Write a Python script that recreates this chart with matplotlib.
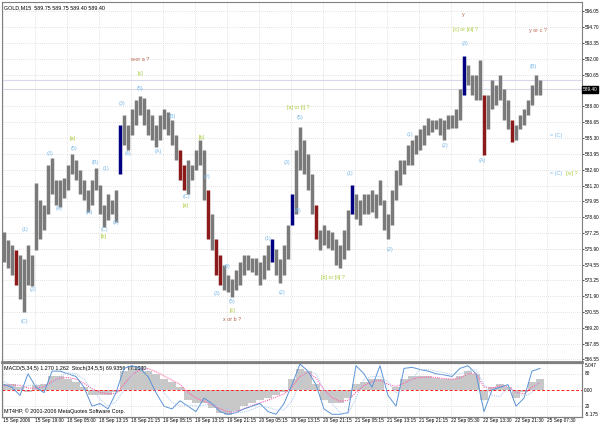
import numpy as np
import matplotlib.pyplot as plt
import matplotlib.transforms as mtransforms

plt.rcParams['font.family'] = ['Liberation Sans', 'DejaVu Sans']

# hourly high / low (GOLD)
highs = [577.3, 576.6, 576.2, 575.8, 575.4, 575.0, 576.2, 575.4, 581.5, 580.0,
         579.6, 583.0, 583.6, 581.7, 581.7, 581.9, 583.0, 583.9, 583.4, 582.6,
         581.7, 580.9, 581.7, 582.7, 581.3, 579.6, 580.5, 580.0, 580.9, 586.4,
         587.2, 586.4, 587.7, 588.5, 588.8, 588.7, 587.7, 587.2, 586.4, 587.2,
         587.7, 587.5, 586.8, 585.5, 584.3, 583.0, 583.4, 583.0, 584.3, 585.1,
         584.3, 580.9, 578.8, 576.7, 575.4, 574.5, 573.7, 573.3, 574.1, 574.8,
         575.4, 575.4, 575.1, 575.1, 574.8, 575.4, 576.2, 576.7, 575.9, 575.0,
         576.2, 577.9, 580.5, 584.3, 586.2, 585.1, 583.9, 582.2, 579.6, 577.5,
         577.9, 577.5, 577.3, 576.7, 576.2, 577.5, 579.2, 581.3, 580.5, 580.0,
         580.5, 580.5, 580.9, 580.5, 581.7, 580.0, 578.8, 580.9, 582.6, 583.4,
         583.4, 584.7, 585.1, 585.5, 586.0, 586.4, 587.0, 586.8, 586.8, 587.0,
         586.8, 587.2, 587.2, 587.7, 589.4, 592.2, 591.5, 590.6, 590.6, 591.9,
         588.9, 588.9, 590.2, 589.8, 590.6, 589.4, 588.5, 586.8, 586.4, 587.2,
         587.7, 588.5, 589.8, 590.6, 590.2]
lows = [574.8, 574.3, 573.7, 572.8, 571.6, 570.5, 572.8, 572.7, 575.8, 576.7,
        577.5, 578.8, 580.5, 579.6, 579.4, 580.2, 580.9, 582.2, 581.7, 580.5,
        580.0, 579.0, 579.6, 580.9, 578.8, 577.7, 578.3, 578.8, 578.2, 582.2,
        584.7, 584.3, 585.5, 586.4, 587.2, 586.4, 585.5, 585.1, 584.5, 585.1,
        586.0, 585.5, 584.7, 583.4, 581.7, 580.9, 580.5, 581.7, 582.6, 583.0,
        580.0, 576.7, 575.8, 573.7, 572.8, 572.4, 572.2, 571.8, 572.4, 572.8,
        573.7, 574.1, 573.9, 573.7, 572.8, 573.3, 574.1, 574.8, 573.7, 573.0,
        573.7, 575.0, 577.9, 578.8, 582.6, 582.2, 580.9, 578.8, 576.7, 575.8,
        576.2, 576.0, 575.8, 574.5, 574.3, 575.0, 575.8, 578.8, 578.4, 577.9,
        578.8, 578.8, 579.0, 578.5, 579.6, 577.5, 576.7, 577.9, 580.0, 581.3,
        582.2, 583.0, 583.0, 583.9, 584.3, 584.7, 585.5, 585.8, 586.0, 585.5,
        585.1, 586.0, 586.1, 586.1, 586.8, 588.9, 589.8, 588.9, 588.5, 588.5,
        583.8, 586.0, 587.7, 588.1, 588.5, 586.8, 586.0, 584.9, 585.1, 586.0,
        586.4, 587.2, 588.1, 588.9, 588.9]
red_bars = [3, 44, 45, 51, 53, 54, 78, 120, 127]
blue_bars = [29, 67, 72, 87, 115]

# indicators, one value every 2 hours
macd_hist = [1, 1, 0.5, -0.5, 0.8, 1, 2.5, 2.5, 2, 1.5,
             0.5, -1, -1, -1, -0.5, 3.5, 4.5, 4.5, 3.5, 3,
             2, 1.5, 0.5, -2, -2.5, -2.5, -3.5, -4.5, -4.8, -4,
             -3, -2.5, -2, -1.5, -1, -0.5, 2, 4, 3.5, 1,
             -2, -2.5, -2.5, -1.5, 1, 1.5, 2, 2, 0, 0.5,
             2, 2.5, 2.5, 2.5, 2.3, 2, 2, 2.5, 3.5, 3,
             -2, 0.5, 1, 0.5, -1.5, -0.5, 1.5, 2]
macd_signal = [0.8, 0.9, 0.8, 0.3, 0.3, 0.6, 1.5, 2.2, 2.3, 2.0,
               1.2, 0.2, -0.5, -0.8, -0.7, 1.0, 2.8, 3.8, 4.0, 3.4,
               2.6, 1.8, 1.0, -0.5, -1.6, -2.2, -2.8, -3.6, -4.2, -4.2,
               -3.6, -3.0, -2.5, -2.0, -1.4, -0.8, 0.5, 2.5, 3.3, 2.2,
               0.0, -1.5, -2.2, -2.0, -0.5, 0.8, 1.5, 1.8, 1.0, 0.6,
               1.2, 2.0, 2.3, 2.4, 2.3, 2.1, 2.0, 2.2, 3.0, 3.0,
               0.5, 0.3, 0.7, 0.6, -0.5, -0.8, 0.5, 1.3]
stoch_main = [60, 55, 40, 80, 55, 45, 85, 85, 80, 75,
              55, 20, 25, 15, 45, 90, 95, 90, 75, 45,
              20, 15, 30, 20, 10, 35, 25, 10, 5, 8,
              15, 20, 25, 10, 5, 25, 60, 98, 85, 60,
              15, 5, 5, 8, 95, 80, 55, 95, 40, 20,
              90, 92, 88, 85, 80, 78, 75, 90, 95, 80,
              10, 50, 55, 60, 20, 35, 85, 90]
stoch_signal = [65, 58, 50, 58, 60, 55, 62, 75, 82, 80,
                70, 50, 33, 20, 28, 50, 78, 92, 87, 70,
                45, 27, 20, 22, 20, 22, 25, 22, 14, 8,
                9, 14, 20, 18, 13, 13, 30, 62, 85, 80,
                50, 25, 8, 6, 35, 70, 75, 75, 65, 45,
                50, 70, 88, 88, 85, 82, 79, 80, 85, 88,
                60, 40, 38, 55, 45, 38, 45, 70]

time_labels = ['15 Sep 2006', '15 Sep 19:00', '18 Sep 05:00', '18 Sep 13:15',
               '18 Sep 21:15', '19 Sep 05:15', '19 Sep 13:15', '19 Sep 21:15',
               '20 Sep 05:15', '20 Sep 13:15', '20 Sep 21:15', '21 Sep 05:15',
               '21 Sep 13:15', '21 Sep 21:15', '22 Sep 05:30', '22 Sep 13:30',
               '22 Sep 21:30', '25 Sep 07:30']
price_ticks = [596.05, 594.70, 593.35, 592.00, 590.65, 588.00, 586.65, 585.30,
               583.95, 582.60, 581.20, 579.95, 578.60, 577.25, 575.90, 574.55,
               573.25, 571.90, 570.55, 569.20, 567.85, 566.55]
last_price = 589.40
ask_price = 590.20

brown = '#b5624a'
green = '#a8cc3c'
lblue = '#7ab8e8'
wave_labels = [
    ('w or a ?', 34, 591.9, brown), ('x or b ?', 57, 569.9, brown),
    ('y', 114.75, 595.7, brown), ('y or c ?', 133.5, 594.4, brown),
    ('[c]', 34, 590.7, green), ('[a]', 17.25, 585.2, green),
    ('[b]', 25, 576.9, green), ('[a]', 45.5, 579.6, green),
    ('[b]', 49.5, 585.3, green), ('[c]', 57, 570.7, green),
    ('[a] or [i] ?', 73.5, 587.9, green), ('[b] or [ii] ?', 82.25, 573.5, green),
    ('[c] or [iii] ?', 115.25, 594.5, green),
    ('(C)', 5, 569.7, lblue), ('(1)', 5.25, 577.5, lblue), ('(2)', 7.25, 572.4, lblue),
    ('(3)', 11.5, 584.0, lblue), ('(4)', 13.75, 579.3, lblue), ('(5)', 17.5, 584.4, lblue),
    ('(A)', 21.25, 579.0, lblue), ('(B)', 22.75, 583.2, lblue), ('(C)', 25, 577.5, lblue),
    ('(1)', 25.5, 582.7, lblue), ('(2)', 28, 578.1, lblue), ('(3)', 29.5, 588.2, lblue),
    ('(4)', 31, 584.0, lblue), ('(5)', 34, 589.5, lblue), ('(A)', 38.5, 584.1, lblue),
    ('(B)', 42, 587.1, lblue), ('(C)', 45.5, 580.3, lblue), ('(2)', 50.75, 582.0, lblue),
    ('(3)', 53.25, 572.1, lblue), ('(4)', 55.75, 574.4, lblue), ('(5)', 57, 571.4, lblue),
    ('(1)', 66, 576.8, lblue), ('(2)', 69.5, 572.2, lblue), ('(3)', 70.75, 583.2, lblue),
    ('(4)', 73.5, 579.1, lblue), ('(5)', 74, 587.0, lblue), ('(1)', 86.5, 582.3, lblue),
    ('(2)', 96.5, 575.8, lblue), ('(1)', 101.5, 585.6, lblue), ('(2)', 110.25, 584.6, lblue),
    ('(3)', 115.25, 593.3, lblue), ('(A)', 119.5, 583.4, lblue), ('(B)', 132.25, 591.3, lblue)]
# texts at the right edge, left aligned
edge_labels = [('= (C)', 136.5, 585.5, lblue), ('= (C)', 136.5, 582.3, lblue),
               ('[iv] ?', 140.6, 582.3, green)]

fs = 3.9
fs_axis = 3.4
grid_kw = dict(color='#c8c8c8', linestyle=(0, (1, 2)), linewidth=0.5)

fig = plt.figure(figsize=(6, 4.24), dpi=100)
ax = fig.add_axes([2/600, 1 - 362/424, 580/600, 360/424])
ax2 = fig.add_axes([2/600, 1 - 417/424, 580/600, 54/424])

n = len(highs)
xs = np.arange(n)
colors = ['#7a7a7a'] * n
for i in red_bars:
    colors[i] = '#8b1a1a'
for i in blue_bars:
    colors[i] = '#000080'
ax.vlines(xs, lows, highs, colors=colors, linewidth=2.5)

ax.set_xlim(-0.5, 144.5)
ax.set_ylim(566.3, 596.8)
tick_x = [8 * k - 0.25 for k in range(len(time_labels))]
for a in (ax, ax2):
    for t in tick_x:
        a.axvline(t, zorder=0, **grid_kw)
for p in price_ticks:
    ax.axhline(p, zorder=0, **grid_kw)
ax.axhline(last_price, color='#d8d8ec', linewidth=0.8, zorder=0)
ax.axhline(ask_price, color='#d8d8ec', linewidth=0.8, zorder=0)

ax.set_xticks([])
ax.yaxis.tick_right()
ax.set_yticks(price_ticks)
ax.set_yticklabels(['%.2f' % p for p in price_ticks], fontsize=fs_axis)
ax.tick_params(axis='y', length=1.5, pad=0.5, width=0.5)
trans = mtransforms.blended_transform_factory(ax.transAxes, ax.transData)
ax.text(1.002, last_price, '%.2f' % last_price, transform=trans, fontsize=fs_axis,
        color='white', va='center', ha='left',
        bbox=dict(facecolor='black', edgecolor='black', pad=0.5))

ax.text(0.004, 0.992, 'GOLD,M15  589.75 589.75 589.40 589.40', transform=ax.transAxes,
        fontsize=fs, va='top', ha='left')
for txt, x, y, c in wave_labels:
    ax.text(x, y, txt, color=c, fontsize=fs, ha='center', va='center')
for txt, x, y, c in edge_labels:
    ax.text(x, y, txt, color=c, fontsize=fs, ha='left', va='center')

# indicator pane
xi = 2 * np.arange(len(macd_hist))
ax2.bar(xi, macd_hist, width=2, color='#c8c8c8', linewidth=0)
ax2.plot(xi, macd_signal, color='#ff5ca8', linestyle=(0, (1, 1)), linewidth=0.8)
ax2.axhline(0, color='#ff2020', linestyle=(0, (3, 2)), linewidth=0.7)
ax2.set_ylim(-5.175, 5.047)
ax2.set_xlim(-0.5, 144.5)
ax3 = ax2.twinx()
ax3.plot(xi, stoch_main, color='#5b93d6', linewidth=0.7)
ax3.plot(xi, stoch_signal, color='#a9c9ee', linestyle=(0, (1, 1)), linewidth=0.7)
ax3.set_ylim(0, 100)
ax3.set_yticks([])
for lv in (20, 80):
    ax3.axhline(lv, **grid_kw)
ax2.set_yticks([])
ax2.set_xticks(tick_x)
ax2.set_xticklabels(time_labels, fontsize=fs_axis, ha='left')
ax2.tick_params(axis='x', length=0, pad=1)
ax2.text(0.004, 0.95, 'MACD(5,34,5) 1.270 1.262  Stoch(34,5,5) 69.9356 77.1340',
         transform=ax2.transAxes, fontsize=fs, va='top', ha='left')
ax2.text(0.004, 0.05, 'MT4HP, \u00a9 2001-2006 MetaQuotes Software Corp.',
         transform=ax2.transAxes, fontsize=fs, va='bottom', ha='left')
for txt, yy in [('5.047', 0.96), ('80', 0.8), ('0.00', 0.5), ('20', 0.2), ('-5.175', 0.04)]:
    ax2.text(1.004, yy, txt, transform=ax2.transAxes, fontsize=fs_axis, va='center', ha='left')

for a in (ax, ax2, ax3):
    for s in a.spines.values():
        s.set_color('#808080')
        s.set_linewidth(0.8)
ax.spines['bottom'].set_linewidth(2)

fig.savefig('out.png', dpi=100)
